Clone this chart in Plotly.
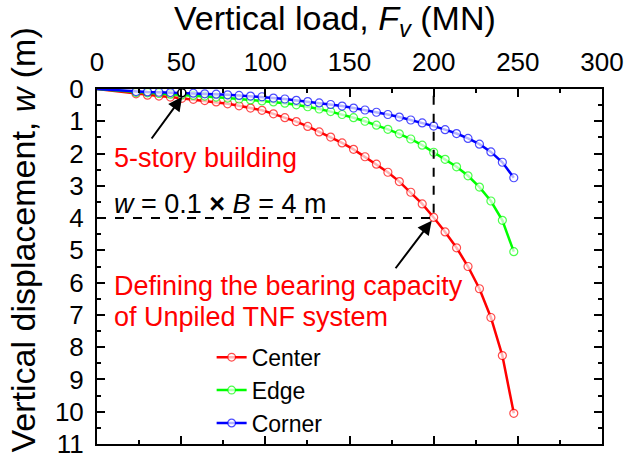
import plotly.graph_objects as go

# ---- data ----
load = [0, 23.2, 30.0, 36.8, 43.6, 50.4, 57.2, 64.0, 70.8, 77.6, 84.4, 91.2, 98.0, 104.8,
        111.6, 118.4, 125.2, 132.0, 138.8, 145.6, 152.4, 159.2, 166.0, 172.8, 179.6,
        186.4, 193.2, 200.0, 206.8, 213.6, 220.4, 227.2, 234.0, 240.8, 247.6]

w_center = [0, 0.15, 0.19, 0.22, 0.25, 0.29, 0.32, 0.36, 0.40, 0.46, 0.52, 0.59, 0.66,
            0.77, 0.89, 1.01, 1.16, 1.33, 1.49, 1.67, 1.87, 2.10, 2.33, 2.58, 2.87,
            3.20, 3.56, 3.98, 4.43, 4.92, 5.50, 6.19, 7.08, 8.26, 10.05]

w_edge = [0, 0.11, 0.12, 0.14, 0.16, 0.18, 0.20, 0.22, 0.25, 0.28, 0.31, 0.34, 0.37,
          0.40, 0.44, 0.49, 0.55, 0.62, 0.70, 0.79, 0.89, 1.00, 1.12, 1.25, 1.39,
          1.55, 1.74, 1.96, 2.18, 2.41, 2.69, 3.04, 3.47, 4.07, 5.04]

w_corner = [0, 0.08, 0.09, 0.10, 0.11, 0.12, 0.13, 0.15, 0.16, 0.18, 0.20, 0.22, 0.24,
            0.28, 0.31, 0.35, 0.39, 0.43, 0.48, 0.53, 0.59, 0.65, 0.72, 0.79, 0.87,
            0.96, 1.05, 1.15, 1.26, 1.38, 1.53, 1.71, 1.95, 2.27, 2.75]

series_names = ["Center", "Edge", "Corner"]
series_colors = ["#FF0000", "#00FF00", "#0000FF"]

bearing_load = 200
bearing_w = 4
five_story_index = 5   # highlighted point on the Corner curve

x_ticks = [0, 50, 100, 150, 200, 250, 300]
y_ticks = list(range(0, 12))

FONT = "Arial, 'Liberation Sans', sans-serif"

fig = go.Figure()

series_vals = [w_center, w_edge, w_corner]
for i, (name, vals, col) in enumerate(zip(series_names, series_vals, series_colors)):
    sizes = [0] + [8] * (len(load) - 1)
    fig.add_trace(go.Scatter(
        x=load, y=vals, name=name, mode="lines+markers",
        legendgroup=name,
        line=dict(color=col, width=2.5),
        marker=dict(symbol="circle", size=sizes, color="white",
                    line=dict(color=col, width=1.2)),
    ))

# highlighted 5-story point
fig.add_trace(go.Scatter(
    x=[load[five_story_index]], y=[w_corner[five_story_index]], mode="markers",
    showlegend=False,
    marker=dict(symbol="circle", size=8, color="white", line=dict(color="black", width=1.5)),
))

# dashed guide lines
fig.add_trace(go.Scatter(
    x=[0, bearing_load, bearing_load], y=[bearing_w, bearing_w, 0], mode="lines",
    showlegend=False, line=dict(color="black", width=2, dash="dash"),
))

ANN = 27
fig.add_annotation(x=9.2, y=2.15, xref="x", yref="y", text="5-story building",
                   showarrow=False, xanchor="left", yanchor="middle",
                   font=dict(family=FONT, size=ANN, color="#FF0000"))
fig.add_annotation(x=9.0, y=3.55, xref="x", yref="y",
                   text="<i>w</i> = 0.1 <b>×</b> <i>B</i> = 4 m",
                   showarrow=False, xanchor="left", yanchor="middle",
                   font=dict(family=FONT, size=ANN, color="black"))
fig.add_annotation(x=9.0, y=6.1, xref="x", yref="y",
                   text="Defining the bearing capacity",
                   showarrow=False, xanchor="left", yanchor="middle",
                   font=dict(family=FONT, size=ANN, color="#FF0000"))
fig.add_annotation(x=9.0, y=7.05, xref="x", yref="y",
                   text="of Unpiled TNF system",
                   showarrow=False, xanchor="left", yanchor="middle",
                   font=dict(family=FONT, size=ANN, color="#FF0000"))

# arrows
fig.add_annotation(x=50.6, y=0.24, ax=31.8, ay=1.58, xref="x", yref="y",
                   axref="x", ayref="y", text="", showarrow=True,
                   arrowhead=2, arrowsize=1.4, arrowwidth=2, arrowcolor="black")
fig.add_annotation(x=198.8, y=4.08, ax=176.7, ay=5.6, xref="x", yref="y",
                   axref="x", ayref="y", text="", showarrow=True,
                   arrowhead=2, arrowsize=1.4, arrowwidth=2, arrowcolor="black")

# axis titles as annotations (precise placement)
fig.add_annotation(x=0.4718, y=1.193, xref="paper", yref="paper",
                   text="Vertical load, <i>F</i><sub><i>v</i></sub> (MN)",
                   showarrow=False, xanchor="center", yanchor="middle",
                   font=dict(family=FONT, size=34, color="black"))
fig.add_annotation(x=-0.1474, y=0.575, xref="paper", yref="paper",
                   text="Vertical displacement, <i>w</i> (m)", textangle=-90,
                   showarrow=False, xanchor="center", yanchor="middle",
                   font=dict(family=FONT, size=34, color="black"))

fig.update_layout(
    width=642, height=457,
    margin=dict(l=96.5, r=40, t=89, b=12.5),
    paper_bgcolor="white", plot_bgcolor="white",
    font=dict(family=FONT, size=24, color="black"),
    legend=dict(x=0.227, y=0.305, xanchor="left", yanchor="top",
                bgcolor="rgba(0,0,0,0)", tracegroupgap=0,
                font=dict(family=FONT, size=23, color="black")),
    xaxis=dict(
        side="top", range=[0, 300], tickvals=x_ticks, automargin=False,
        ticks="inside", ticklen=8, tickwidth=2, tickcolor="black",
        minor=dict(ticks="inside", ticklen=4, tickwidth=2, tickcolor="black", dtick=25),
        showline=True, linewidth=2, linecolor="black", mirror="ticks",
        showgrid=False, zeroline=False, ticklabelstandoff=6, ticklabeloverflow="allow",
        tickfont=dict(family=FONT, size=26),
    ),
    yaxis=dict(
        range=[11, 0], tickvals=y_ticks, automargin=False,
        ticks="inside", ticklen=8, tickwidth=2, tickcolor="black",
        minor=dict(ticks="inside", ticklen=4, tickwidth=2, tickcolor="black", dtick=0.5),
        showline=True, linewidth=2, linecolor="black", mirror="ticks",
        showgrid=False, zeroline=False, ticklabelstandoff=6, ticklabeloverflow="allow",
        tickfont=dict(family=FONT, size=26),
    ),
)

# remove the page's default 8px body margin so the figure fills the window
fig.write_html("out.html", config={"displayModeBar": False},
               post_script="document.body.style.margin='0';document.body.style.overflow='hidden';")
